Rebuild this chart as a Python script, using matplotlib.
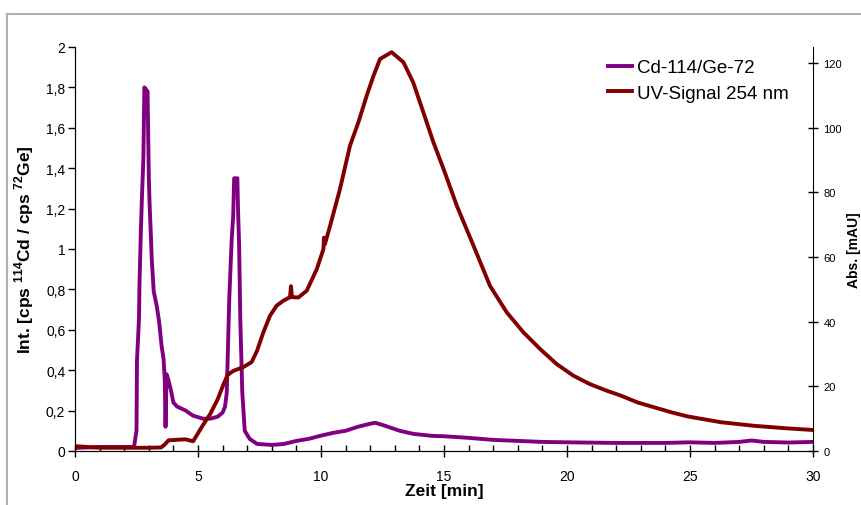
import matplotlib
matplotlib.use("Agg")
import matplotlib.pyplot as plt
from matplotlib.ticker import MultipleLocator, FuncFormatter
from matplotlib.lines import Line2D

plt.rcParams['font.family'] = ['Liberation Sans', 'DejaVu Sans']
plt.rcParams['mathtext.fontset'] = 'custom'
plt.rcParams['mathtext.rm'] = 'Liberation Sans:bold'
plt.rcParams['mathtext.bf'] = 'Liberation Sans:bold'

# Cd-114/Ge-72 ratio (left axis)
cd_time = [0, 1, 2, 2.4, 2.5, 2.52, 2.6, 2.62, 2.68, 2.72, 2.78, 2.82, 2.95, 3.0, 3.03,
           3.08, 3.12, 3.2, 3.32, 3.42, 3.52, 3.6, 3.65, 3.68, 3.72, 3.8, 3.9, 4.0, 4.15,
           4.5, 4.8, 5.2, 5.5, 5.8, 6.0, 6.1, 6.17, 6.27, 6.37, 6.43, 6.47, 6.6, 6.63,
           6.67, 6.72, 6.8, 6.9, 7.1, 7.4, 8.0, 8.5, 9.0, 9.5, 10, 10.5, 11, 11.5, 12,
           12.2, 12.6, 13.2, 13.75, 14.5, 15, 16, 17, 18, 19, 20, 22, 24, 25, 26, 27,
           27.5, 28, 29, 30]
cd_ratio = [0.015, 0.02, 0.02, 0.02, 0.1, 0.45, 0.65, 0.82, 1.1, 1.25, 1.45, 1.8, 1.78,
            1.36, 1.23, 1.08, 0.95, 0.79, 0.72, 0.64, 0.52, 0.455, 0.35, 0.12, 0.38, 0.35,
            0.3, 0.24, 0.22, 0.2, 0.175, 0.16, 0.16, 0.17, 0.19, 0.22, 0.29, 0.75, 1.05,
            1.16, 1.35, 1.35, 1.18, 1.03, 0.65, 0.29, 0.1, 0.06, 0.035, 0.03, 0.035, 0.05,
            0.06, 0.076, 0.09, 0.1, 0.12, 0.135, 0.14, 0.125, 0.10, 0.085, 0.075, 0.073,
            0.065, 0.055, 0.05, 0.045, 0.043, 0.04, 0.04, 0.043, 0.04, 0.045, 0.052,
            0.045, 0.042, 0.045]

# UV signal 254 nm (right axis, mAU)
uv_time = [0, 1, 2, 3, 3.5, 3.65, 3.8, 4.2, 4.5, 4.8, 5.0, 5.2, 5.5, 5.8, 6.03, 6.2,
           6.44, 6.85, 7.18, 7.4, 7.66, 7.93, 8.2, 8.47, 8.74, 8.78, 8.82, 9.08, 9.42,
           9.83, 10.1, 10.12, 10.16, 10.37, 10.77, 11.18, 11.52, 11.86, 12.13, 12.4,
           12.87, 13.35, 13.75, 14.16, 14.57, 14.98, 15.52, 16.2, 16.87, 17.55, 18.23,
           18.9, 19.58, 20.26, 20.93, 21.6, 22.2, 22.88, 23.55, 24.23, 24.9, 26.26,
           27.6, 28.96, 30]
uv_abs = [1.5, 1.0, 1.0, 1.0, 1.1, 2, 3.3, 3.5, 3.6, 3.0, 5.5, 8, 11.5, 16, 20.5, 23.5,
          24.8, 26, 27.5, 31, 36.8, 41.9, 45, 46.5, 47.6, 51, 47.6, 47.5, 49.6, 56.3,
          62.5, 66, 64, 69.7, 81, 94.5, 101.7, 110, 116, 121.3, 123.4, 120.3, 114,
          104.8, 95.5, 87.3, 75.9, 63.5, 51.1, 42.9, 36.7, 31.6, 26.9, 23.3, 20.7, 18.7,
          17.1, 15, 13.5, 12, 10.7, 8.9, 7.8, 7, 6.5]

left_ticks = [0, 0.2, 0.4, 0.6, 0.8, 1, 1.2, 1.4, 1.6, 1.8, 2]
right_ticks = [0, 20, 40, 60, 80, 100, 120]
x_ticks = [0, 5, 10, 15, 20, 25, 30]

W, H = 862, 506
fig = plt.figure(figsize=(W / 100, H / 100), dpi=100)

# light gray outer frame (chart area border)
fig.add_artist(Line2D([7 / W, 1], [1 - 15 / H, 1 - 15 / H], color='#b0b0b0', lw=1.5))
fig.add_artist(Line2D([7 / W, 7 / W], [0, 1 - 15 / H], color='#b0b0b0', lw=1.5))

ax = fig.add_axes([75 / W, (H - 452) / H, (813 - 75) / W, (452 - 48) / H])
ax2 = ax.twinx()

purple = '#800080'
darkred = '#800000'

l1, = ax.plot(cd_time, cd_ratio, color=purple, lw=2.8, label='Cd-114/Ge-72')
l2, = ax2.plot(uv_time, uv_abs, color=darkred, lw=2.8, label='UV-Signal 254 nm')

ax.set_xlim(0, 30)
ax.set_ylim(0, 2)
ax2.set_ylim(0, 125)

for a in (ax, ax2):
    a.spines['top'].set_visible(False)
ax.spines['right'].set_visible(False)

def comma(v, pos):
    s = ('%g' % v)
    return s.replace('.', ',')

ax.set_yticks(left_ticks)
ax.yaxis.set_major_formatter(FuncFormatter(comma))
ax.set_xticks(x_ticks)
ax.xaxis.set_minor_locator(MultipleLocator(1))
ax2.set_yticks(right_ticks)

ax.tick_params(axis='y', direction='out', length=5, width=1, labelsize=10, pad=2)
ax.tick_params(axis='x', which='major', direction='inout', length=8, width=1,
               labelsize=10, pad=9)
ax.tick_params(axis='x', which='minor', direction='in', length=4, width=1)
ax2.tick_params(axis='y', direction='inout', length=7, width=1, labelsize=8, pad=4)

ax.set_xlabel('Zeit [min]', fontsize=12.5, fontweight='bold', labelpad=0)
ax.set_ylabel(r'Int. [cps $^{114}$Cd / cps $^{72}$Ge]', fontsize=12.5,
              fontweight='bold')
ax.yaxis.set_label_coords(-(75 - 36) / (813 - 75), 0.5)
ax2.set_ylabel('Abs. [mAU]', fontsize=10, fontweight='bold')
ax2.yaxis.set_label_coords(1 + (847 - 813) / (813 - 75), 0.5)

ax2.legend(handles=[l1, l2], loc='upper left',
           bbox_to_anchor=(608 / W, 1 - 60 / H), bbox_transform=fig.transFigure,
           frameon=False, fontsize=13.5, handlelength=1.3, handletextpad=0.27,
           labelspacing=0.45, borderaxespad=0, borderpad=0)

fig.savefig('out.png', dpi=100)
